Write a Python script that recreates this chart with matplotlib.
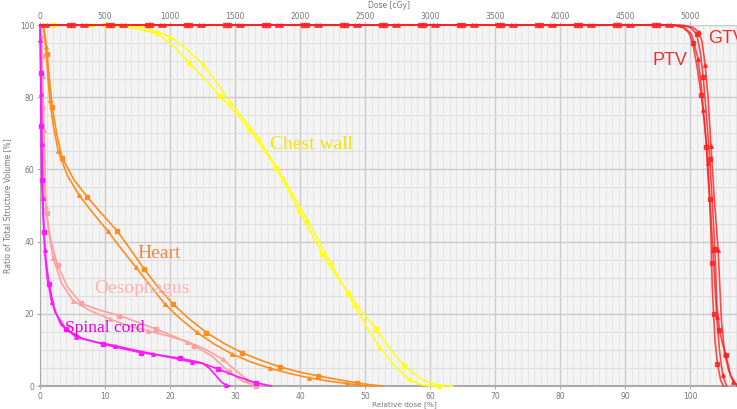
"""
plot.py
=======
Dose-volume histogram (DVH) for two plans: chest wall, heart, oesophagus,
spinal cord, PTV and GTV.  Square markers = plan A, triangles = plan B.
"""

import matplotlib
matplotlib.use("Agg")
import matplotlib.pyplot as plt
from matplotlib.ticker import MultipleLocator, FixedLocator

# -- Data (relative dose [%], volume [%]) ------------------------------------
chest_a_dose = [0, 2, 6, 10, 14.1, 17.95, 20.5, 22.9, 25.3, 27.7, 30, 32.2, 34.3,
                36.3, 38.1, 39.8, 41.6, 43.4, 45.4, 47.4, 49.5, 51.7, 53.8, 56,
                58.7, 61.4, 63.5]
chest_a_vol = [100, 100, 100, 100, 99.3, 97.7, 94.2, 89.6, 85.1, 80.3, 75.8, 71.1,
               65.9, 60.4, 54.6, 48.6, 42.6, 36.6, 31.0, 25.8, 20.6, 15.8, 10.4,
               5.5, 1.8, 0.1, 0]
chest_b_dose = [0, 4, 8, 12, 16, 20, 22.5, 25, 27.1, 29.2, 31.4, 33.6, 35.5, 37.4,
                39.3, 41.1, 42.9, 44.7, 46.5, 48.3, 50.2, 52.2, 54.4, 56.7, 58.5,
                60, 62]
chest_b_vol = [100, 100, 100, 100, 99.3, 96.8, 93.4, 89.2, 84.2, 78.8, 73.8, 68.6,
               63.1, 57.5, 51.7, 46, 40.1, 34.2, 28.2, 22.4, 16.5, 10.9, 5.8, 1.9,
               0.4, 0, 0]

heart_a_dose = [0, 0.5, 0.8, 1.1, 1.5, 1.9, 2.6, 3.4, 5.2, 7.3, 9.6, 11.9, 14,
                16, 18.2, 20.5, 23, 25.6, 28.3, 31.1, 34, 36.9, 39.8, 42.8, 45.7,
                48.7, 51, 52.8]
heart_a_vol = [100, 100, 97, 91.9, 84, 77.2, 69.5, 63.2, 57.2, 52.3, 47.5, 42.9,
               37.6, 32.4, 27.3, 22.6, 18.5, 14.8, 11.8, 9.2, 7.1, 5.3, 3.9, 2.8,
               1.8, 0.9, 0.3, 0]
heart_b_dose = [0, 0.5, 0.9, 1.2, 1.5, 2.1, 2.8, 4.2, 6, 8.1, 10.4, 12.5, 14.7,
                17, 19.2, 21.6, 24.1, 26.8, 29.6, 32.5, 35.4, 38.3, 41.3, 44.2,
                47.2, 49.5, 51.5]
heart_b_vol = [100, 99.5, 93.8, 86, 79.2, 71.5, 65.1, 58.3, 52.9, 48, 43, 38, 33,
               27.7, 22.7, 18.6, 14.9, 11.6, 8.8, 6.6, 4.9, 3.5, 2.3, 1.4, 0.7,
               0.2, 0]

oeso_a_dose = [0, 0.15, 0.3, 0.33, 0.35, 0.42, 0.5, 0.7, 1.0, 1.7, 2.7, 4.2, 6.3,
               9.2, 12.2, 15, 17.9, 20.8, 23.7, 26.5, 29, 31, 33.2]
oeso_a_vol = [100, 99, 91.5, 84, 76.9, 69, 62.1, 55, 47.8, 40, 33.5, 27.5, 22.9,
              21, 19.5, 17.7, 15.7, 13.6, 11.2, 8.2, 4, 1.5, 0]
oeso_b_dose = [0, 0.2, 0.3, 0.4, 0.5, 0.6, 0.75, 0.9, 1.4, 2.0, 3.3, 5.1, 7.8,
               10.8, 13.7, 16.6, 19.6, 22.6, 25.4, 28.1, 30, 31.8, 33.6]
oeso_b_vol = [100, 97, 92, 86, 79, 71, 62, 49.7, 42, 35.6, 28.5, 23.6, 20.8, 18.5,
              16.6, 15.3, 13.9, 12.3, 10.2, 7.4, 4.5, 1.8, 0]

cord_a_dose = [0, 0.05, 0.1, 0.13, 0.15, 0.2, 0.26, 0.4, 0.6, 0.9, 1.4, 2.3, 4,
               6.5, 9.7, 12.6, 15.6, 18.5, 21.5, 24.5, 27.4, 30.5, 33.2, 35.6]
cord_a_vol = [100, 95, 86.6, 79, 72, 64, 57.2, 50, 42.7, 35, 28.2, 20.5, 15.7,
              13.2, 11.6, 10.4, 9.2, 8.5, 7.7, 6.6, 4.7, 2.5, 0.9, 0]
cord_b_dose = [0, 0.05, 0.1, 0.2, 0.3, 0.45, 0.7, 1.1, 1.8, 3.2, 5.6, 8.5, 11.5,
               14.4, 17.4, 20.4, 23.4, 25, 26, 27, 27.8, 28.6, 29.2]
cord_b_vol = [100, 95.8, 89, 81, 67, 52, 37.7, 30, 23.2, 17, 13.5, 12.2, 11.2, 10,
              8.9, 7.8, 6.6, 6.3, 5, 3, 1.3, 0.2, 0]

ptv_a_dose = [0, 4.4, 10.4, 16.4, 22.4, 28.4, 34.4, 40.4, 46.4, 52.4, 58.4, 64.4,
              70.4, 76.4, 82.4, 88.4, 94.4, 97.5, 99, 99.8, 100.4, 101.1, 101.7,
              102.2, 102.5, 102.8, 103, 103.2, 103.3, 103.4, 103.6, 103.8, 104.2,
              104.7, 105.1]
ptv_a_vol = [100] * 17 + [99.9, 99.2, 97.8, 94.9, 88, 80.6, 73, 66.3, 56.3, 51.7,
                          41.8, 34, 27.3, 20, 12.7, 6, 1.5, 0]
ptv_b_dose = [0, 0.5, 6.5, 12.5, 18.5, 24.5, 30.5, 36.5, 42.5, 48.5, 54.5, 60.5,
              66.5, 72.5, 78.5, 84.5, 90.5, 96.5, 98, 99, 100.2, 101.2, 101.7, 102,
              102.4, 102.7, 103.1, 103.5, 103.8, 104.1, 104.5, 105, 105.6]
ptv_b_vol = [100] * 18 + [99.9, 99.4, 97.5, 90.7, 83.5, 76.5, 69, 61.7, 49.5,
                          37.7, 28, 19, 10, 3, 0]
gtv_a_dose = [0, 5.0, 11.0, 17.0, 23.0, 29.0, 35.0, 41.0, 47.0, 53.0, 59.0, 65.0,
              71.0, 77.0, 83.0, 89.0, 95.0, 98.5, 100, 101, 101.6, 102, 102.5,
              103, 103.4, 103.8, 104.1, 104.5, 105, 105.5, 106.2, 107.2]
gtv_a_vol = [100] * 17 + [99.9, 99.4, 97.5, 92, 85.7, 75, 63, 51, 38, 22.7, 15.5,
                          11.5, 8.6, 3, 0]
gtv_b_dose = [0, 1.1, 7.1, 13.1, 19.1, 25.1, 31.1, 37.1, 43.1, 49.1, 55.1, 61.1,
              67.1, 73.1, 79.1, 85.1, 91.1, 97.1, 99, 100.5, 101.3, 101.8, 102.3,
              102.7, 103.2, 103.7, 104.3, 104.8, 105.3, 105.9, 106.6, 107.5]
gtv_b_vol = [100] * 18 + [99.9, 99.3, 98, 95.6, 89, 81, 66.6, 52, 37.7, 18.3, 9,
                          4.4, 1.2, 0]

top_ticks = [0, 500, 1000, 1500, 2000, 2500, 3000, 3500, 4000, 4500, 5000]

# -- Curve styling: (dose, vol, colour, marker, marked point indices) --------
YELLOW, ORANGE, PINK, MAGENTA, RED = "#ffff1a", "#ff8c1f", "#ffa0a0", "#ff19ff", "#ff2020"

curves = [
    (chest_a_dose, chest_a_vol, YELLOW, "s", [1, 3, 5, 7, 9, 11, 13, 15, 17, 19, 21, 23, 25]),
    (chest_b_dose, chest_b_vol, YELLOW, "^", [2, 5, 7, 9, 11, 13, 15, 17, 19, 21, 23]),
    (heart_a_dose, heart_a_vol, ORANGE, "s", [3, 5, 7, 9, 11, 13, 15, 17, 19, 21, 23, 25]),
    (heart_b_dose, heart_b_vol, ORANGE, "^", [2, 4, 6, 8, 10, 12, 14, 16, 18, 20, 22, 24]),
    (oeso_a_dose, oeso_a_vol, PINK, "s", [2, 4, 6, 8, 10, 12, 14, 16, 18, 20, 22]),
    (oeso_b_dose, oeso_b_vol, PINK, "^", [1, 3, 5, 7, 9, 11, 13, 15, 17, 19, 21]),
    (cord_a_dose, cord_a_vol, MAGENTA, "s", [2, 4, 6, 8, 10, 12, 14, 16, 18, 20, 22]),
    (cord_b_dose, cord_b_vol, MAGENTA, "^", [1, 3, 4, 5, 6, 8, 10, 12, 14, 16, 21]),
    (ptv_a_dose, ptv_a_vol, RED, "s", list(range(1, 17)) + [20, 22, 24, 26, 28, 30, 32]),
    (ptv_b_dose, ptv_b_vol, RED, "^", list(range(1, 18)) + [21, 23, 25, 27, 29, 31]),
    (gtv_a_dose, gtv_a_vol, RED, "s", list(range(1, 17)) + [19, 21, 23, 25, 27, 29]),
    (gtv_b_dose, gtv_b_vol, RED, "^", list(range(1, 18)) + [20, 22, 24, 26, 28, 30]),
]

# -- Structure labels: (text, x, y, colour, family, size) --------------------
labels = [
    ("Chest wall", 35.4, 66.8, "#f2e600", "Liberation Serif", 14),
    ("Heart", 14.9, 36.8, "#f0874a", "Liberation Serif", 14),
    ("Oesophagus", 8.3, 27.1, "#ffb3b3", "Liberation Serif", 14),
    ("Spinal cord", 3.8, 16.1, "#e600e6", "Liberation Serif", 12.5),
    ("PTV", 94.2, 90.3, "#ee3030", "Liberation Sans", 13),
    ("GTV", 102.8, 96.4, "#ee3030", "Liberation Sans", 13),
]

# ----------------------------------------------------------------------------
fig = plt.figure(figsize=(7.37, 4.09), dpi=100)
ax = fig.add_axes([0.0543, 0.0562, 0.9457, 0.8826])
ax.set_facecolor("#f4f4f4")

ax.set_xlim(0, 107.2)
ax.set_ylim(0, 100)
ax.xaxis.set_major_locator(MultipleLocator(10))
ax.xaxis.set_minor_locator(MultipleLocator(1))
ax.yaxis.set_major_locator(MultipleLocator(20))
ax.yaxis.set_minor_locator(MultipleLocator(5))
ax.grid(which="major", color="#cbcbcb", linewidth=1.0)
ax.grid(which="minor", axis="x", color="#e3e3e3", linewidth=0.6)
ax.grid(which="minor", axis="y", color="#dedede", linewidth=0.8)
ax.set_axisbelow(True)

for dose, vol, colour, marker, marks in curves:
    ms = 3.2 if marker == "s" else 2.6
    alpha = 0.8 if colour == RED else 1.0
    ax.plot(dose, vol, color=colour, linewidth=1.2, alpha=alpha, marker=marker,
            markersize=ms, markevery=marks, clip_on=False, zorder=3)

for text, x, y, colour, family, size in labels:
    ax.text(x, y, text, color=colour, family=family, fontsize=size,
            ha="left", va="center", zorder=4)

ax.tick_params(which="both", labelsize=5.5, labelcolor="#777777", color="#aaaaaa",
               length=2.5, pad=1.5)
ax.tick_params(which="minor", length=0)
ax.set_xlabel("Relative dose [%]", fontsize=5.3, color="#777777", ha="left")
ax.set_ylabel("Ratio of Total Structure Volume [%]", fontsize=5.5, color="#777777")
ax.xaxis.set_label_coords(0.477, -0.041)
ax.yaxis.set_label_coords(-0.04, 0.5)

for side in ("top", "right"):
    ax.spines[side].set_visible(False)
ax.spines["bottom"].set_color("#aaaaaa")
ax.spines["bottom"].set_linewidth(1.5)
ax.spines["left"].set_color("#aaaaaa")

# top axis in absolute dose (100 % = 5000 cGy)
top = ax.secondary_xaxis("top", functions=(lambda x: x * 50, lambda d: d / 50))
top.xaxis.set_major_locator(FixedLocator(top_ticks))
top.tick_params(labelsize=5.5, labelcolor="#777777", color="#aaaaaa", length=2, pad=1)
top.set_xlabel("Dose [cGy]", fontsize=5.5, color="#777777", labelpad=3)
top.spines["top"].set_visible(False)

fig.savefig("out.png", dpi=100)
